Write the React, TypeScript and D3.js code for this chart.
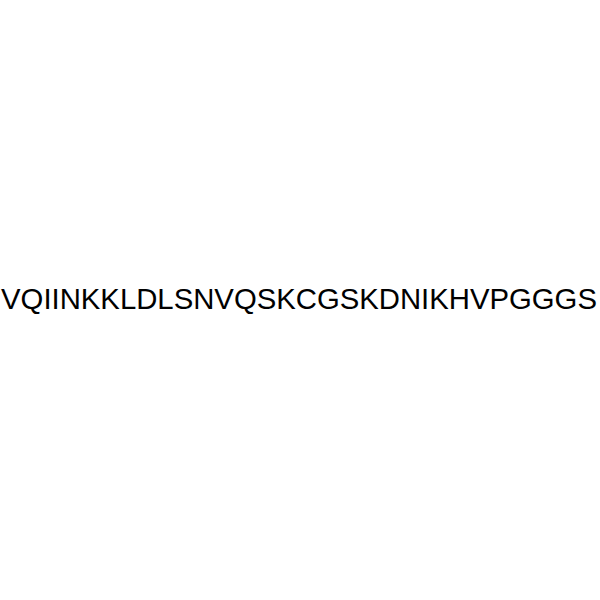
import React from "react";
import * as d3 from "d3";

const sequence: string[] = ["VQIINKKLDLSNVQSKCGSKDNIKHVPGGGS"];

export default function App() {
  const width = 600;
  const height = 600;
  const y = d3.scaleBand<string>().domain(sequence).range([290, 310]);
  return (
    <svg
      width={width}
      height={height}
      style={{ position: "absolute", left: 0, top: 0, background: "#fff" }}
    >
      {sequence.map((s) => (
        <text
          key={s}
          x={299}
          y={309}
          textAnchor="middle"
          fontFamily="'Liberation Sans', Arial, sans-serif"
          fontSize={29.3}
          fill="#000"
        >
          {s}
        </text>
      ))}
    </svg>
  );
}
